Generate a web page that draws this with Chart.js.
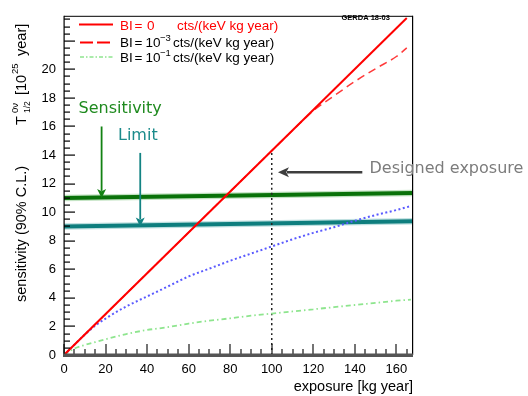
<!DOCTYPE html>
<html>
<head>
<meta charset="utf-8">
<script src="https://cdn.jsdelivr.net/npm/chart.js@4/dist/chart.umd.min.js"></script>
<style>
  html, body { margin: 0; padding: 0; background: #fff; }
  #wrap { width: 528px; height: 396px; }
</style>
</head>
<body>
<div id="wrap"><canvas id="c" width="528" height="396"></canvas></div>
<script>
// Exposure grid (kg year) shared by the curved projections
const exposure = [0, 5, 10, 15, 20, 30, 40, 50, 60, 70, 80, 90, 100, 110, 120, 130, 140, 150, 160, 167];

// Background-free case: straight line
const bi0Exposure = [0, 165];
const bi0Values = [0, 23.6];

// BI = 1e-3 cts/(keV kg year)
const bi3Exposure = [0, 100, 110, 115, 120, 130, 140, 150, 160, 165];
const bi3Values = [0, 14.3, 15.72, 16.43, 17.1, 18.15, 19.15, 20.05, 20.9, 21.5];

// Intermediate background (dotted blue curve)
const bi2Values = [0, 0.72, 1.43, 2.05, 2.55, 3.4, 4.1, 4.8, 5.5, 6.05, 6.6, 7.1, 7.6, 8.1, 8.55, 8.95, 9.4, 9.8, 10.15, 10.43];

// BI = 1e-1 cts/(keV kg year)
const bi1Values = [0, 0.45, 0.7, 0.9, 1.1, 1.47, 1.75, 1.95, 2.2, 2.4, 2.57, 2.75, 2.9, 3.05, 3.2, 3.35, 3.5, 3.65, 3.8, 3.88];

// Achieved sensitivity and limit bands
const bandExposure = [0, 168];
const sensitivityValues = [11.0, 11.35];
const limitValues = [9.0, 9.36];

// Designed exposure marker
const designedExposure = 100;
const designedTop = 14.3;

// Axis ranges and labelled ticks
const xRange = [0, 168];
const yRange = [0, 23.75];
const xTickLabels = [0, 20, 40, 60, 80, 100, 120, 140, 160];
const yTickLabels = [0, 2, 4, 6, 8, 10, 12, 14, 16, 18, 20];

const pts = (xs, ys) => xs.map((v, i) => ({ x: v, y: ys[i] }));

const ROOT_FONT = '"Liberation Sans", Arial, sans-serif';
const ANN_FONT = '"DejaVu Sans", Verdana, sans-serif';

function arrow(ctx, x1, y1, x2, y2, color, lw, len, half) {
  const ang = Math.atan2(y2 - y1, x2 - x1);
  const bx = x2 - Math.cos(ang) * len, by = y2 - Math.sin(ang) * len;
  ctx.setLineDash([]);
  ctx.strokeStyle = color; ctx.fillStyle = color; ctx.lineWidth = lw;
  ctx.beginPath(); ctx.moveTo(x1, y1); ctx.lineTo(bx + Math.cos(ang) * 2, by + Math.sin(ang) * 2); ctx.stroke();
  const nx = -Math.sin(ang), ny = Math.cos(ang);
  const nxm = x2 - Math.cos(ang) * len * 0.75, nym = y2 - Math.sin(ang) * len * 0.75;
  ctx.beginPath();
  ctx.moveTo(x2, y2);
  ctx.lineTo(bx + nx * half, by + ny * half);
  ctx.lineTo(nxm, nym);
  ctx.lineTo(bx - nx * half, by - ny * half);
  ctx.closePath(); ctx.fill();
}

const decorations = {
  id: 'decorations',
  afterDraw(chart) {
    const { ctx, chartArea: a, scales } = chart;
    const xs = scales.x, ys = scales.y;
    ctx.save();
    ctx.setLineDash([]);
    ctx.globalAlpha = 1;

    // y ticks (inside, major every 2, minor every 0.5)
    ctx.fillStyle = '#000';
    for (let i = 0; i * 0.5 <= yRange[1]; i++) {
      const py = Math.round(ys.getPixelForValue(i * 0.5));
      const len = (i % 4 === 0) ? 11 : 6;
      ctx.fillRect(a.left, py - 0.5, len, 1.2);
    }
    // x ticks (inside, major every 20, minor every 5)
    ctx.fillStyle = '#1a1a1a';
    for (let i = 0; i * 5 <= xRange[1]; i++) {
      const px = Math.round(xs.getPixelForValue(i * 5));
      const len = (i % 4 === 0) ? 11 : 6;
      ctx.fillRect(px - 0.6, a.bottom - len, 1.2, len);
    }

    // frame
    ctx.fillStyle = '#000';
    ctx.fillRect(a.left - 0.5, a.top, 1.2, a.bottom - a.top);
    ctx.fillRect(a.left, a.top, a.right - a.left, 1);
    ctx.fillRect(a.right - 1, a.top, 1.2, a.bottom - a.top);
    // bottom axis line
    ctx.fillStyle = '#555';
    ctx.fillRect(a.left - 1, a.bottom - 1.5, a.right - a.left + 1, 3.5);

    // x axis title
    ctx.fillStyle = '#000';
    ctx.font = '14.5px ' + ROOT_FONT;
    ctx.textAlign = 'right'; ctx.textBaseline = 'alphabetic';
    ctx.fillText('exposure [kg year]', a.right, 391);

    // y axis title (rotated)
    ctx.save();
    ctx.translate(26, 302);
    ctx.rotate(-Math.PI / 2);
    ctx.textAlign = 'left';
    const put = (t, px, dy, size) => { ctx.font = size + 'px ' + ROOT_FONT; ctx.fillText(t, px, dy); };
    put('sensitivity (90% C.L.)', 0, 0, 14.5);
    put('T', 177, 0, 14.5);
    put('0\u03bd', 189, -8, 9.5);
    put('1/2', 189, 4, 8.5);
    put('[10', 207, 0, 14.5);
    put('25', 228, -8, 9.5);
    put('year]', 246, 0, 14.5);
    ctx.restore();

    // legend
    ctx.textAlign = 'left'; ctx.textBaseline = 'alphabetic';
    ctx.lineWidth = 2; ctx.strokeStyle = '#ff0000';
    ctx.beginPath(); ctx.moveTo(79, 24.5); ctx.lineTo(113, 24.5); ctx.stroke();
    ctx.setLineDash([13, 4]);
    ctx.beginPath(); ctx.moveTo(80, 42.5); ctx.lineTo(113, 42.5); ctx.stroke();
    ctx.setLineDash([4, 2, 1.5, 2]); ctx.strokeStyle = '#8ee58e'; ctx.lineWidth = 1.5;
    ctx.beginPath(); ctx.moveTo(80, 57); ctx.lineTo(113, 57); ctx.stroke();
    ctx.setLineDash([]);

    const T = (t, px, py, size, color) => { ctx.font = size + 'px ' + ROOT_FONT; ctx.fillStyle = color; ctx.fillText(t, px, py); };
    const rows = [
      { y: 29.5, color: '#ff0000', value: '0', exp: '', unitX: 177 },
      { y: 47, color: '#000', value: '10', exp: '\u22123', unitX: 173 },
      { y: 61.5, color: '#000', value: '10', exp: '\u22121', unitX: 173 }
    ];
    rows.forEach(r => {
      T('BI', 120, r.y, 13.5, r.color);
      T('=', 134.5, r.y, 13.5, r.color);
      T(r.value, r.value === '0' ? 147 : 145.5, r.y, 13.5, r.color);
      if (r.exp) T(r.exp, 160, r.y - 6, 9.5, r.color);
      T('cts/(keV kg year)', r.unitX, r.y, 13.5, r.color);
    });

    ctx.font = 'bold 7.5px ' + ROOT_FONT; ctx.fillStyle = '#000';
    ctx.fillText('GERDA 18-03', 341.5, 19.5);

    // annotations
    ctx.font = '16px ' + ANN_FONT;
    ctx.fillStyle = '#1f8a1f';
    ctx.fillText('Sensitivity', 78.5, 113);
    ctx.fillStyle = '#1b8b8b';
    ctx.fillText('Limit', 118, 140);
    ctx.fillStyle = '#7c7c7c';
    ctx.fillText('Designed exposure', 369.5, 173);

    arrow(ctx, xs.getPixelForValue(18.1), ys.getPixelForValue(16.0), xs.getPixelForValue(18.1), ys.getPixelForValue(11.0), '#138213', 1.8, 9, 4.5);
    arrow(ctx, xs.getPixelForValue(36.7), ys.getPixelForValue(14.15), xs.getPixelForValue(36.7), ys.getPixelForValue(9.0), '#138383', 1.8, 9, 4.5);
    arrow(ctx, xs.getPixelForValue(143.6), ys.getPixelForValue(12.8), xs.getPixelForValue(103), ys.getPixelForValue(12.8), '#3e3e3e', 2.5, 11, 5);

    ctx.restore();
  }
};

const line = (data, color, width, dash, order) => ({
  data, borderColor: color, borderWidth: width, borderDash: dash || [],
  pointRadius: 0, fill: false, cubicInterpolationMode: 'monotone', order
});

new Chart(document.getElementById('c'), {
  type: 'line',
  data: {
    datasets: [
      line(pts(bi0Exposure, bi0Values), '#ff0000', 2, null, 0),
      line(pts(bi3Exposure, bi3Values), '#ff3a3a', 1.5, [8, 5], 1),
      line(pts(exposure, bi2Values), '#5a5aff', 2, [2, 2.5], 2),
      line(pts(exposure, bi1Values), '#8ee58e', 1.8, [5, 3, 1.5, 3], 3),
      line([{ x: designedExposure, y: 0 }, { x: designedExposure, y: designedTop }], '#222', 1.5, [2, 3], 4),
      line(pts(bandExposure, sensitivityValues), '#0a720a', 4, null, 5),
      line(pts(bandExposure, sensitivityValues), '#c4e4c4', 6.5, null, 6),
      line(pts(bandExposure, limitValues), '#0e7e7e', 4, null, 7),
      line(pts(bandExposure, limitValues), '#bfe0e0', 6.5, null, 8)
    ]
  },
  options: {
    responsive: false,
    animation: false,
    layout: { padding: { left: 0, right: 115, top: 6, bottom: 0 } },
    plugins: { legend: { display: false }, tooltip: { enabled: false } },
    scales: {
      x: {
        type: 'linear', min: xRange[0], max: xRange[1],
        afterBuildTicks: s => { s.ticks = xTickLabels.map(v => ({ value: v })); },
        ticks: { font: { family: ROOT_FONT, size: 13 }, color: '#000', padding: 7, maxRotation: 0, autoSkip: false },
        grid: { display: false, drawTicks: false },
        border: { display: false },
        afterFit: s => { s.height = 41; }
      },
      y: {
        type: 'linear', min: yRange[0], max: yRange[1],
        afterBuildTicks: s => { s.ticks = yTickLabels.map(v => ({ value: v })); },
        ticks: { font: { family: ROOT_FONT, size: 13 }, color: '#000', padding: 8, autoSkip: false },
        grid: { display: false, drawTicks: false },
        border: { display: false },
        afterFit: s => { s.width = 64; }
      }
    }
  },
  plugins: [decorations]
});
</script>
</body>
</html>
